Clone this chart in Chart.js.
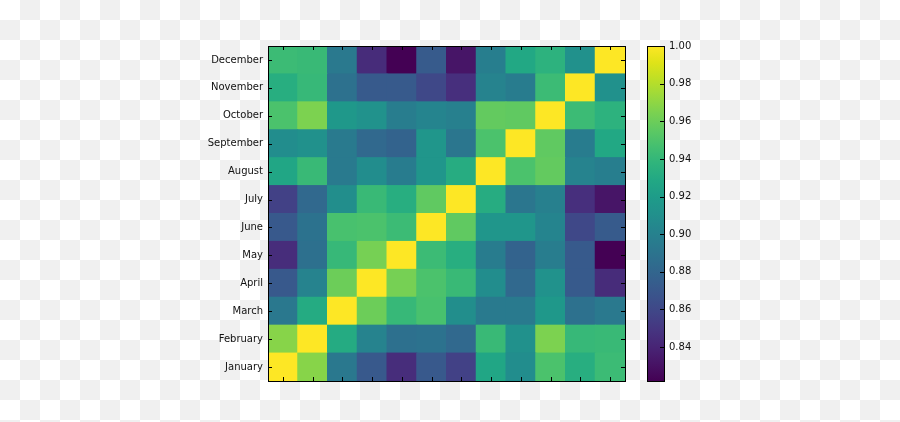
<!DOCTYPE html>
<html>
<head>
<meta charset="utf-8">
<script src="https://cdn.jsdelivr.net/npm/chart.js@4/dist/chart.umd.min.js"></script>
<style>
  html, body { margin: 0; padding: 0; }
  body {
    width: 900px; height: 422px; overflow: hidden;
    background: repeating-conic-gradient(#f0f0f0 0 25%, #ffffff 0 50%) 0 0 / 40px 40px;
  }
  canvas { display: block; }
</style>
</head>
<body>
<canvas id="c" width="900" height="422"></canvas>
<script>
// ---- data ----
const MONTHS = ['January','February','March','April','May','June','July','August','September','October','November','December'];
// correlation rows (row = month, columns January..December)
const JAN = [1.000, 0.968, 0.893, 0.871, 0.845, 0.871, 0.856, 0.927, 0.908, 0.949, 0.933, 0.943];
const FEB = [0.968, 1.000, 0.931, 0.901, 0.887, 0.889, 0.882, 0.942, 0.911, 0.965, 0.941, 0.942];
const MAR = [0.893, 0.931, 1.000, 0.960, 0.941, 0.948, 0.909, 0.895, 0.895, 0.917, 0.888, 0.894];
const APR = [0.871, 0.901, 0.960, 1.000, 0.963, 0.949, 0.942, 0.908, 0.882, 0.912, 0.872, 0.844];
const MAY = [0.845, 0.887, 0.941, 0.963, 1.000, 0.943, 0.933, 0.896, 0.878, 0.897, 0.872, 0.822];
const JUN = [0.871, 0.889, 0.948, 0.949, 0.943, 1.000, 0.956, 0.915, 0.915, 0.902, 0.860, 0.873];
const JUL = [0.856, 0.882, 0.909, 0.942, 0.933, 0.956, 1.000, 0.932, 0.892, 0.899, 0.846, 0.832];
const AUG = [0.927, 0.942, 0.895, 0.908, 0.896, 0.915, 0.932, 1.000, 0.949, 0.957, 0.901, 0.898];
const SEP = [0.908, 0.911, 0.895, 0.882, 0.878, 0.915, 0.892, 0.949, 1.000, 0.956, 0.896, 0.929];
const OCT = [0.949, 0.965, 0.917, 0.912, 0.897, 0.902, 0.899, 0.957, 0.956, 1.000, 0.943, 0.936];
const NOV = [0.933, 0.941, 0.888, 0.872, 0.872, 0.860, 0.846, 0.901, 0.896, 0.943, 1.000, 0.911];
const DEC = [0.943, 0.942, 0.894, 0.844, 0.822, 0.873, 0.832, 0.898, 0.929, 0.936, 0.911, 1.000];
const ROWS = [JAN, FEB, MAR, APR, MAY, JUN, JUL, AUG, SEP, OCT, NOV, DEC];
const CB_TICKS = [0.84, 0.86, 0.88, 0.90, 0.92, 0.94, 0.96, 0.98, 1.00];

// ---- colormap (viridis) ----
const VIRIDIS = ['#440154','#471365','#482475','#463480','#414487','#3b528b','#355f8d','#2f6c8e','#2a788e','#25848e',
                 '#21918c','#1e9c89','#22a884','#2fb47c','#44bf70','#5ec962','#7ad151','#9bd93c','#bddf26','#dfe318','#fde725'];
const hex = h => [1,3,5].map(i => parseInt(h.substr(i,2),16));
const VMIN = Math.min(...ROWS.flat());
const VMAX = Math.max(...ROWS.flat());
function cmap(v) {
  let t = (v - VMIN) / (VMAX - VMIN);
  t = Math.max(0, Math.min(1, t));
  const p = t * (VIRIDIS.length - 1);
  const i = Math.min(Math.floor(p), VIRIDIS.length - 2);
  const f = p - i;
  const a = hex(VIRIDIS[i]), b = hex(VIRIDIS[i+1]);
  const c = a.map((x,k) => Math.round(x + (b[k]-x)*f));
  return `rgb(${c[0]},${c[1]},${c[2]})`;
}

// each row is a stacked band of unit height; colour encodes the value
const datasets = ROWS.map((row, r) => ({
  label: MONTHS[r],
  data: row.map(() => 1),
  backgroundColor: row.map(cmap),
  borderWidth: 0,
  inflateAmount: 0.5,
  barPercentage: 1,
  categoryPercentage: 1
}));

const FONT = { family: "'DejaVu Sans', sans-serif", size: 10 };

const decor = {
  id: 'decor',
  afterDatasetsDraw(chart) {
    const { ctx, chartArea: a, scales } = chart;
    const x = scales.x, y = scales.y, cb = scales.cb;
    ctx.save();
    ctx.strokeStyle = '#000';
    ctx.lineWidth = 1;
    ctx.beginPath();
    MONTHS.forEach((m, i) => {
      const px = Math.round(x.getPixelForValue(i)) + 0.5;
      ctx.moveTo(px, a.top); ctx.lineTo(px, a.top + 4);
      ctx.moveTo(px, a.bottom); ctx.lineTo(px, a.bottom - 4);
      const py = Math.round(y.getPixelForValue(i + 0.5)) + 0.5;
      ctx.moveTo(a.left, py); ctx.lineTo(a.left + 4, py);
      ctx.moveTo(a.right, py); ctx.lineTo(a.right - 4, py);
    });
    ctx.stroke();
    ctx.strokeRect(a.left + 0.5, a.top + 0.5, a.width, a.height);

    // colorbar
    const cbL = a.right + 22, cbW = 17;
    const y0 = cb.getPixelForValue(VMIN), y1 = cb.getPixelForValue(VMAX);
    const g = ctx.createLinearGradient(0, y0, 0, y1);
    VIRIDIS.forEach((c, i) => g.addColorStop(i / (VIRIDIS.length - 1), c));
    ctx.fillStyle = g;
    ctx.fillRect(cbL, y1, cbW, y0 - y1);
    ctx.beginPath();
    CB_TICKS.forEach(v => {
      const py = Math.round(cb.getPixelForValue(v)) + 0.5;
      ctx.moveTo(cbL + cbW, py); ctx.lineTo(cbL + cbW - 4, py);
    });
    ctx.stroke();
    ctx.strokeRect(cbL + 0.5, y1 + 0.5, cbW, y0 - y1);
    ctx.restore();
  }
};

const resetPad = s => { s.paddingTop = 0; s.paddingBottom = 0; };

new Chart(document.getElementById('c'), {
  type: 'bar',
  data: { labels: MONTHS, datasets },
  options: {
    responsive: false,
    devicePixelRatio: 1,
    animation: false,
    layout: { padding: { top: 46, bottom: 41, left: 0, right: 0 } },
    plugins: { legend: { display: false }, tooltip: { enabled: false } },
    scales: {
      x: { stacked: true, display: false },
      y: {
        stacked: true, position: 'left', min: 0, max: MONTHS.length,
        grid: { display: false, drawTicks: false },
        border: { display: false },
        afterBuildTicks: s => { s.ticks = MONTHS.map((m, i) => ({ value: i + 0.5 })); },
        afterFit: s => { s.width = 268; resetPad(s); },
        ticks: { callback: (v, i) => MONTHS[i], color: '#111', font: FONT, padding: 5, autoSkip: false }
      },
      cb: {
        position: 'right', type: 'linear', min: VMIN, max: VMAX,
        grid: { display: false, drawTicks: true, tickLength: 39 },
        border: { display: false },
        afterBuildTicks: s => { s.ticks = CB_TICKS.map(v => ({ value: v })); },
        afterFit: s => { s.width = 275; resetPad(s); },
        ticks: { callback: v => v.toFixed(2), color: '#111', font: FONT, padding: 5, autoSkip: false }
      }
    }
  },
  plugins: [decor]
});
</script>
</body>
</html>
